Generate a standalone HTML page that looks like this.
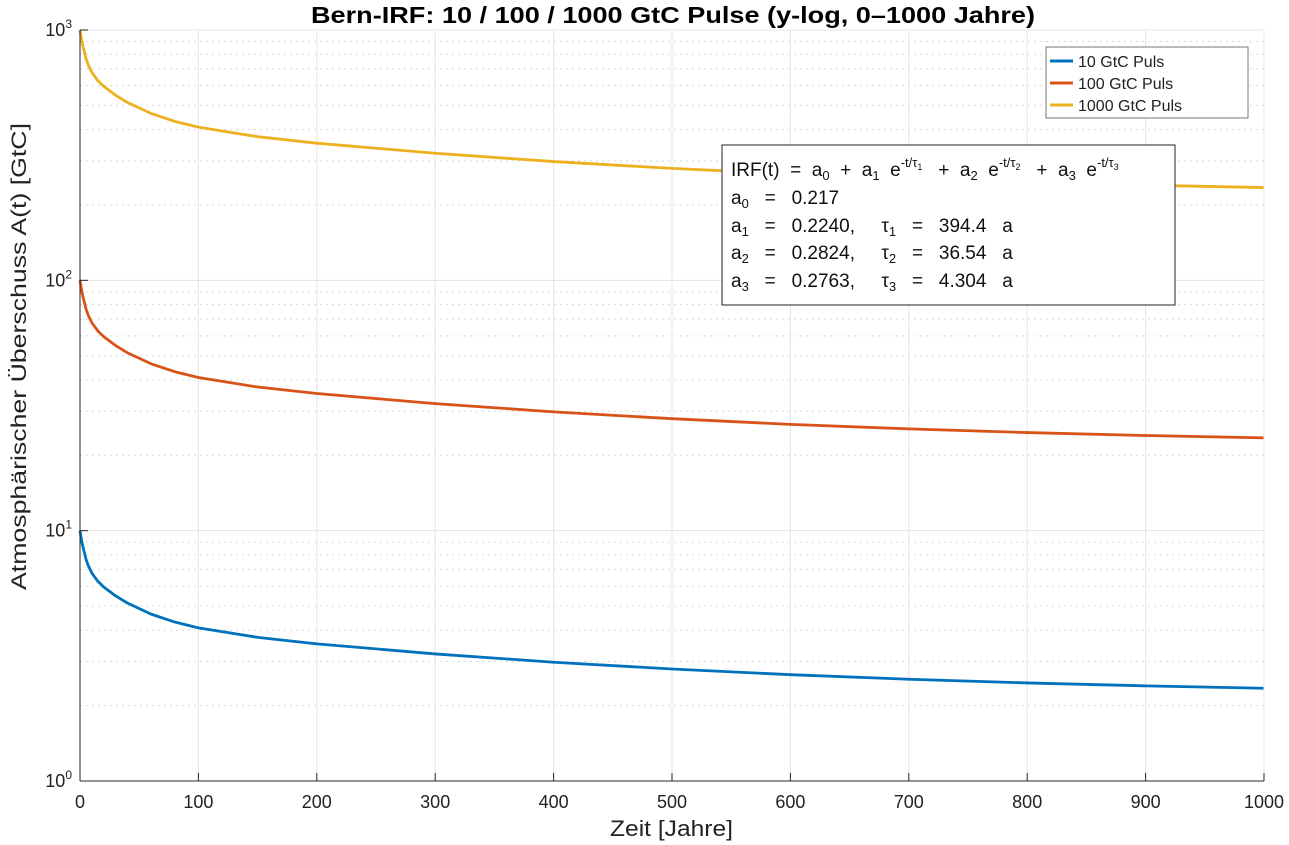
<!DOCTYPE html>
<html><head><meta charset="utf-8">
<style>
html,body{margin:0;padding:0;background:#fff;}
svg{display:block;font-family:"Liberation Sans",Arial,sans-serif;}
</style></head>
<body>
<svg id="chart" width="1289" height="845" viewBox="0 0 1289 845" xmlns="http://www.w3.org/2000/svg">
<rect x="0" y="0" width="1289" height="845" fill="#fff"/>
<g id="grid"></g>
<g id="series"></g>
<g id="axes"></g>
<text x="311" y="23" textLength="724" lengthAdjust="spacingAndGlyphs" font-size="23" font-weight="bold" fill="#000">Bern-IRF: 10 / 100 / 1000 GtC Pulse (y-log, 0–1000 Jahre)</text>
<text x="610" y="836" textLength="123" lengthAdjust="spacingAndGlyphs" font-size="22" fill="#222">Zeit [Jahre]</text>
<text transform="translate(26,590) rotate(-90)" textLength="467" lengthAdjust="spacingAndGlyphs" font-size="21" fill="#222">Atmosphärischer Überschuss A(t) [GtC]</text>
<g>
<rect x="1046" y="47" width="202" height="71" fill="#fff" stroke="#777" stroke-width="1"/>
<g><line x1="1050" x2="1073" y1="61" y2="61" stroke="#0072BD" stroke-width="3"/><text x="1078" y="67" font-size="16" fill="#222">10 GtC Puls</text></g>
<g><line x1="1050" x2="1073" y1="83" y2="83" stroke="#D95319" stroke-width="3"/><text x="1078" y="89" font-size="16" fill="#222">100 GtC Puls</text></g>
<g><line x1="1050" x2="1073" y1="105" y2="105" stroke="#EDB120" stroke-width="3"/><text x="1078" y="111" font-size="16" fill="#222">1000 GtC Puls</text></g>
</g>
<g font-size="19" fill="#111" xml:space="preserve">
<rect x="722" y="145" width="453" height="160" fill="#fff" stroke="#222" stroke-width="1"/>
<text x="731" y="176" xml:space="preserve">IRF(t)  =  a<tspan font-size="13" dy="4">0</tspan><tspan dy="-4">  +  a</tspan><tspan font-size="13" dy="4">1</tspan><tspan dy="-4">  e</tspan><tspan font-size="13" dy="-9">-t/τ</tspan><tspan font-size="9" dy="3">1</tspan><tspan dy="6">   +  a</tspan><tspan font-size="13" dy="4">2</tspan><tspan dy="-4">  e</tspan><tspan font-size="13" dy="-9">-t/τ</tspan><tspan font-size="9" dy="3">2</tspan><tspan dy="6">   +  a</tspan><tspan font-size="13" dy="4">3</tspan><tspan dy="-4">  e</tspan><tspan font-size="13" dy="-9">-t/τ</tspan><tspan font-size="9" dy="3">3</tspan></text>
<text x="731" y="204" xml:space="preserve">a<tspan font-size="13" dy="4">0</tspan><tspan dy="-4">   =   0.217</tspan></text>
<text x="731" y="232" xml:space="preserve">a<tspan font-size="13" dy="4">1</tspan><tspan dy="-4">   =   0.2240,     τ</tspan><tspan font-size="13" dy="4">1</tspan><tspan dy="-4">   =   394.4   a</tspan></text>
<text x="731" y="259" xml:space="preserve">a<tspan font-size="13" dy="4">2</tspan><tspan dy="-4">   =   0.2824,     τ</tspan><tspan font-size="13" dy="4">2</tspan><tspan dy="-4">   =   36.54   a</tspan></text>
<text x="731" y="287" xml:space="preserve">a<tspan font-size="13" dy="4">3</tspan><tspan dy="-4">   =   0.2763,     τ</tspan><tspan font-size="13" dy="4">3</tspan><tspan dy="-4">   =   4.304   a</tspan></text>
</g>
</svg>
<script>
const years = [0,1,2,5,7,10,15,20,30,40,60,80,100,150,200,300,400,500,600,700,800,900,1000];
const pulse10 = [10,9.342,8.808,7.710,7.247,6.773,6.284,5.959,5.491,5.139,4.641,4.315,4.091,3.748,3.531,3.218,2.982,2.801,2.659,2.550,2.465,2.399,2.347];
const pulse100 = [100,93.42,88.08,77.10,72.47,67.73,62.84,59.59,54.91,51.39,46.41,43.15,40.91,37.48,35.31,32.18,29.82,28.01,26.59,25.50,24.65,23.99,23.47];
const pulse1000 = [1000,934.2,880.8,771.0,724.7,677.3,628.4,595.9,549.1,513.9,464.1,431.5,409.1,374.8,353.1,321.8,298.2,280.1,265.9,255.0,246.5,239.9,234.7];
const xTicks = [0,100,200,300,400,500,600,700,800,900,1000];
const yDecades = [0,1,2,3];

const NS = 'http://www.w3.org/2000/svg';
const L=80,R=1264,T=30,B=781;
function xs(v){return L+(v-0)/(1000-0)*(R-L);}
function ys(v){return B-(Math.log10(v)-0)/3*(B-T);}
function mk(tag,attrs,parent){const e=document.createElementNS(NS,tag);for(const k in attrs)e.setAttribute(k,attrs[k]);parent.appendChild(e);return e;}
const grid=document.getElementById('grid'), axes=document.getElementById('axes'), series=document.getElementById('series');
for(let d=0;d<3;d++){for(let m=2;m<=9;m++){const v=Math.pow(10,d)*m;const y=ys(v);
 const ln=mk('line',{x1:L,x2:R,y1:y,y2:y,stroke:'#d8d8d8','stroke-width':1,'stroke-dasharray':'2,4'},grid);
 
 }}
xTicks.forEach(v=>{const x=xs(v);const ln=mk('line',{x1:x,x2:x,y1:T,y2:B,stroke:'#e3e3e3','stroke-width':1},grid);
 
 });
yDecades.forEach(d=>{const y=ys(Math.pow(10,d));const ln=mk('line',{x1:L,x2:R,y1:y,y2:y,stroke:'#e3e3e3','stroke-width':1},grid);
 
 });
[[pulse10,'#0072BD','line-10-gtc'],[pulse100,'#D95319','line-100-gtc'],[pulse1000,'#EDB120','line-1000-gtc']].forEach(([vals,c,n])=>{
 const d=vals.map((v,i)=>(i?'L':'M')+xs(years[i]).toFixed(2)+','+ys(v).toFixed(2)).join(' ');
 const p=mk('path',{d:d,fill:'none',stroke:c,'stroke-width':2.8,'stroke-linejoin':'round'},series);
 
 
});
mk('line',{x1:L,x2:R,y1:T,y2:T,stroke:'#e6e6e6'},axes);
mk('line',{x1:R,x2:R,y1:T,y2:B,stroke:'#e6e6e6'},axes);
const xa=mk('line',{x1:L,x2:R,y1:B,y2:B,stroke:'#262626','stroke-width':1},axes);


const ya=mk('line',{x1:L,x2:L,y1:T,y2:B,stroke:'#262626','stroke-width':1},axes);


xTicks.forEach(v=>{const x=xs(v);mk('line',{x1:x,x2:x,y1:B,y2:B-8,stroke:'#262626'},axes);
 const t=mk('text',{x:x,y:B+27,'text-anchor':'middle','font-size':18,fill:'#222'},axes);t.textContent=String(v);
 
 });
yDecades.forEach(d=>{const y=ys(Math.pow(10,d));mk('line',{x1:L,x2:L+8,y1:y,y2:y,stroke:'#262626'},axes);
 const t=mk('text',{x:L-8,y:y+6,'text-anchor':'end','font-size':18,fill:'#222'},axes);
 t.textContent='10';const s=document.createElementNS(NS,'tspan');s.setAttribute('font-size','12');s.setAttribute('dy','-8');s.textContent=String(d);t.appendChild(s);
 
 });
</script>
</body></html>
